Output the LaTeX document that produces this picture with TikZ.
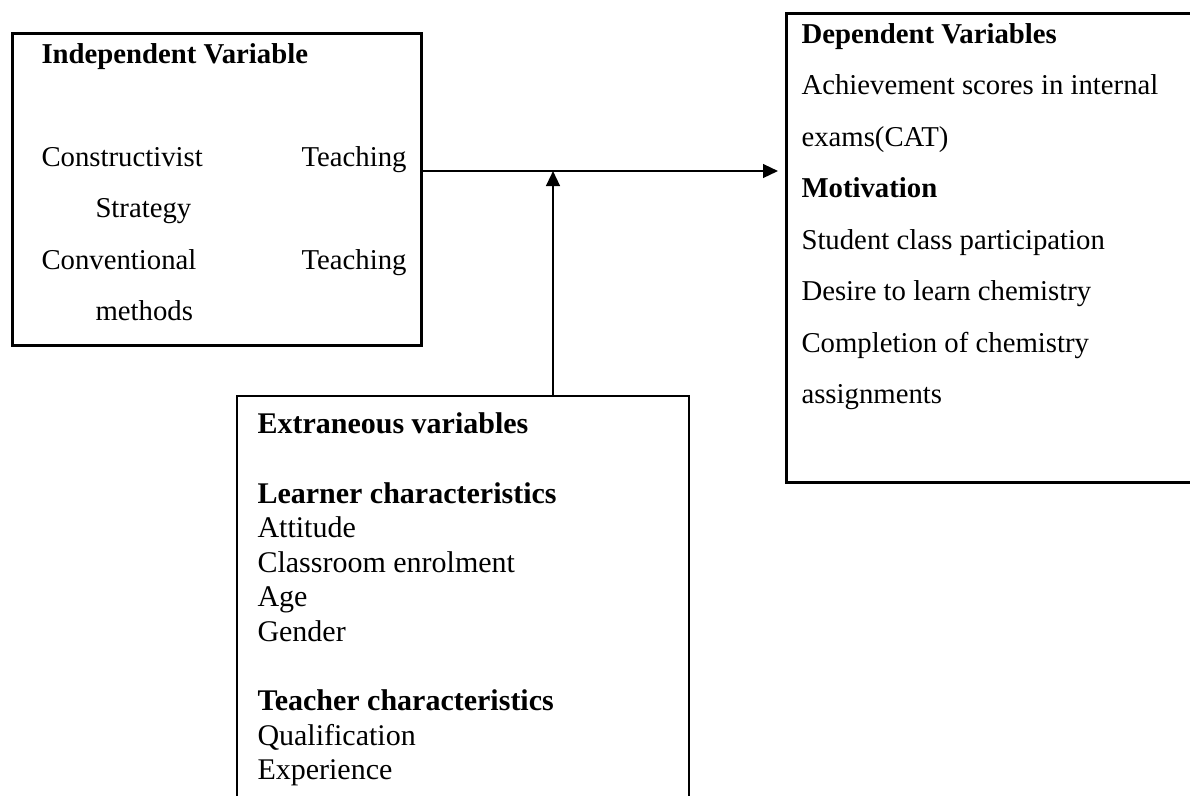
\documentclass[tikz,border=0pt]{standalone}
\usepackage{fontspec}
\setmainfont{Liberation Serif}
\usetikzlibrary{arrows.meta}
\begin{document}
\begin{tikzpicture}[x=0.4pt,y=-0.4pt,
  thickbox/.style={draw, line width=1.2pt, inner sep=0pt, outer sep=0pt, anchor=north west},
  thinbox/.style={draw, line width=0.65pt, inner sep=0pt, outer sep=0pt, anchor=north west},
  txt/.style={anchor=base west, inner sep=0pt, font=\fontsize{11.5pt}{14pt}\selectfont},
  rtxt/.style={anchor=base east, inner sep=0pt, font=\fontsize{11.5pt}{14pt}\selectfont},
  btxt/.style={anchor=base west, inner sep=0pt, font=\fontsize{11.5pt}{14pt}\selectfont\bfseries},
  etxt/.style={anchor=base west, inner sep=0pt, font=\fontsize{12pt}{14pt}\selectfont},
  ebtxt/.style={anchor=base west, inner sep=0pt, font=\fontsize{12pt}{14pt}\selectfont\bfseries},
  arr/.style={line width=0.8pt, -{Triangle[length=6pt,width=5.5pt]}}]
\useasboundingbox (0,0) rectangle (1190,795);

% boxes
\node[thickbox, minimum width=163.6pt, minimum height=124.8pt] (indep) at (12,33) {};
\node[thickbox, minimum width=163.6pt, minimum height=187.6pt] (dep) at (786,13) {};
\node[thinbox, minimum width=180.8pt, minimum height=170pt] (extr) at (237,396) {};

% independent box text
\node[btxt] (i1) at (41,63) {Independent Variable};
\node[txt] (i2) at (41,166) {Constructivist};
\node[rtxt] (i3) at (407,166) {Teaching};
\node[txt] (i4) at (95,217.5) {Strategy};
\node[txt] (i5) at (41,269) {Conventional};
\node[rtxt] (i6) at (407,269) {Teaching};
\node[txt] (i7) at (95,320.5) {methods};

% dependent box text
\node[btxt] (d1) at (801,43) {Dependent Variables};
\node[txt] (d2) at (801,94.5) {Achievement scores in internal};
\node[txt] (d3) at (801,146) {exams(CAT)};
\node[btxt] (d4) at (801,197.5) {Motivation};
\node[txt] (d5) at (801,249) {Student class participation};
\node[txt] (d6) at (801,300.5) {Desire to learn chemistry};
\node[txt] (d7) at (801,352) {Completion of chemistry};
\node[txt] (d8) at (801,403.5) {assignments};

% extraneous box text
\node[ebtxt] (e1) at (257,433) {Extraneous variables};
\node[ebtxt] (e2) at (257,503) {Learner characteristics};
\node[etxt] (e3) at (257,537.5) {Attitude};
\node[etxt] (e4) at (257,572) {Classroom enrolment};
\node[etxt] (e5) at (257,606.5) {Age};
\node[etxt] (e6) at (257,641) {Gender};
\node[ebtxt] (e7) at (257,710.5) {Teacher characteristics};
\node[etxt] (e8) at (257,745) {Qualification};
\node[etxt] (e9) at (257,779.5) {Experience};

% connectors
\coordinate (j) at (553,171);
\draw[arr, shorten >=3.2pt] (indep.east |- j) -- (dep.west |- j);
\draw[arr] (extr.north -| j) -- (j);
\end{tikzpicture}
\end{document}
